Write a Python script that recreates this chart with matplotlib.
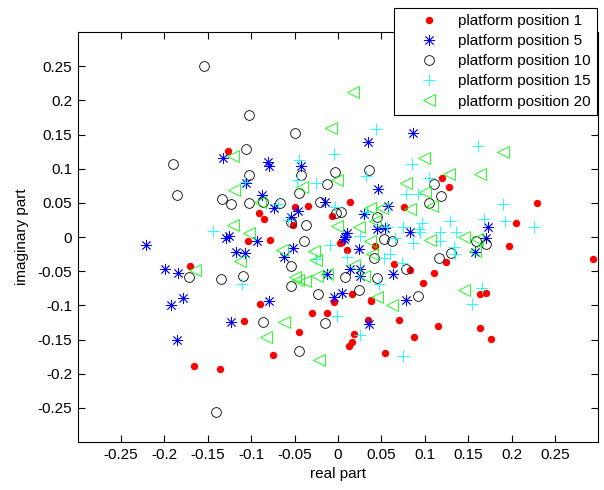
import matplotlib
matplotlib.use("Agg")
import matplotlib.pyplot as plt

plt.rcParams['font.family'] = ['Liberation Sans', 'DejaVu Sans']

# ── data ─────────────────────────────────────────────────────────────────────

pos1_re = [-0.1707, -0.1665, -0.1357, -0.1085, -0.0900, -0.0747, -0.0444, -0.0294,
           -0.0124, -0.0044, 0.0382, 0.0344, 0.0190, 0.0167, 0.0125, 0.0536,
           0.0705, 0.0881, 0.1154, 0.1642, 0.1768, 0.2290, 0.2056, 0.1976,
           0.2944, 0.1640, 0.1700, -0.1270, -0.0912, -0.0855, -0.0498, -0.0348,
           -0.0067, -0.0516, -0.1035, -0.0789, 0.0020, 0.1200, 0.1285, 0.0136,
           0.0758, 0.0048, 0.0106, 0.0424, 0.1246, 0.0643, 0.0827, 0.1104,
           0.0981, 0.0164, 0.0386]
pos1_im = [-0.0420, -0.1890, -0.1930, -0.1230, -0.0985, -0.1733, -0.1384, -0.1107,
           -0.1107, -0.0952, -0.0937, -0.1209, -0.1418, -0.1540, -0.1588, -0.1695,
           -0.1209, -0.1467, -0.1296, -0.1330, -0.1490, 0.0491, 0.0210, -0.0125,
           -0.0320, -0.0840, -0.0825, 0.1260, 0.0351, 0.0258, 0.0433, 0.0453,
           0.0312, 0.0180, -0.0052, -0.0038, -0.0086, 0.0870, 0.0735, 0.0506,
           0.0443, -0.0077, -0.0188, -0.0125, -0.0369, -0.0402, -0.0490, -0.0529,
           -0.0669, -0.0830, -0.0927]

pos5_re = [-0.2218, -0.1995, -0.1840, -0.1930, -0.1790, -0.1860, -0.1235, -0.0790,
           0.0355, 0.0778, 0.0344, 0.0866, -0.1323, -0.0810, -0.0790, -0.0432,
           -0.1058, -0.0881, -0.0740, -0.0463, -0.0152, -0.0539, -0.1258, -0.1296,
           -0.0931, -0.0516, -0.1173, -0.1077, -0.0628, -0.0124, -0.0048, 0.1726,
           0.1707, 0.1580, 0.0463, 0.0578, 0.0297, 0.0451, 0.0547, 0.0106,
           0.0086, 0.0067, 0.0835, 0.0240, 0.0636, 0.0136, 0.0259, 0.0259,
           0.0048]
pos5_im = [-0.0120, -0.0465, -0.0520, -0.0995, -0.0898, -0.1500, -0.1238, -0.0930,
           -0.1280, -0.0927, 0.1395, 0.1522, 0.1153, 0.1100, 0.1040, 0.1040,
           0.0797, 0.0613, 0.0424, 0.0385, 0.0516, 0.0287, 0.0020, -0.0013,
           -0.0063, -0.0159, -0.0213, -0.0232, -0.0286, -0.0538, -0.0879, 0.0147,
           -0.0013, -0.0213, 0.0701, 0.0458, 0.0337, 0.0118, 0.0133, 0.0054,
           0.0006, -0.0028, 0.0069, -0.0173, -0.0548, -0.0465, -0.0465, -0.0577,
           -0.0820]

pos10_re = [-0.1544, -0.1907, -0.1860, -0.1720, -0.0870, -0.0452, -0.0152, -0.1410,
            0.0920, -0.1031, -0.0490, -0.1058, -0.0424, -0.1028, -0.0132, -0.0037,
            -0.0452, -0.1342, -0.1238, -0.1031, -0.0862, -0.0674, -0.0210, -0.0021,
            -0.0547, -0.0371, -0.0394, -0.0547, -0.1354, -0.1092, -0.0539, -0.0233,
            0.1592, 0.1711, 0.0355, 0.1112, 0.1192, 0.1046, 0.0040, 0.0451,
            0.0528, 0.0624, 0.1304, 0.1161, 0.0420, 0.0781, 0.0075, 0.0451,
            0.0240]
pos10_im = [0.2507, 0.1070, 0.0620, -0.0590, -0.1238, -0.1670, -0.1258, -0.2560,
            -0.0869, 0.1789, 0.1526, 0.1289, 0.0914, 0.0905, 0.0774, 0.0953,
            0.0647, 0.0550, 0.0482, 0.0497, 0.0512, 0.0497, 0.0516, 0.0356,
            0.0214, 0.0180, -0.0063, -0.0431, -0.0621, -0.0567, -0.0723, -0.0830,
            -0.0052, -0.0106, 0.0978, 0.0774, 0.0603, 0.0501, 0.0360, 0.0287,
            -0.0028, -0.0063, -0.0232, -0.0305, -0.0310, -0.0465, -0.0587, -0.0602,
            -0.0781]

pos15_re = [-0.1440, -0.0009, 0.0251, 0.0751, 0.1546, 0.1899, 0.1680, 0.1930,
            0.2260, 0.1665, 0.1610, 0.0440, -0.0048, -0.0447, -0.1074, -0.0478,
            -0.0259, -0.0693, -0.0037, -0.0578, -0.0094, -0.0248, -0.1112, 0.0855,
            0.0328, 0.1046, 0.0778, 0.0920, 0.0336, 0.0751, 0.0970, 0.0931,
            0.1296, 0.0567, 0.1180, 0.0943, 0.1362, 0.0662, 0.0259, 0.1180,
            0.0866, 0.1334, 0.1354, 0.0098, 0.0528, 0.0605, 0.0740, 0.0470]
pos15_im = [0.0093, -0.1160, -0.1428, -0.1743, -0.0976, 0.0482, 0.0264, 0.0229,
            0.0142, -0.0748, 0.1337, 0.1585, 0.1211, 0.1128, 0.0812, 0.0832,
            0.0797, 0.0482, 0.0433, 0.0254, -0.0115, -0.0319, -0.0684, 0.1075,
            0.0895, 0.0862, 0.0628, 0.0628, 0.0360, 0.0142, 0.0200, 0.0118,
            0.0229, 0.0152, 0.0069, 0.0069, 0.0069, -0.0013, 0.0020, -0.0052,
            -0.0092, -0.0140, -0.0246, -0.0296, -0.0305, -0.0246, -0.0383, -0.0684]

pos20_re = [-0.1650, -0.0624, -0.0832, -0.0221, 0.0624, 0.1900, 0.1642, 0.1450,
            0.1604, 0.1584, 0.1450, 0.0175, -0.0086, 0.0990, -0.1215, -0.0412,
            -0.1200, -0.0900, -0.1215, -0.1023, -0.0643, -0.0279, -0.0259, -0.1131,
            -0.0498, -0.0463, -0.0382, -0.0240, -0.0124, -0.0009, 0.0789, 0.1277,
            0.1000, 0.1085, 0.0509, 0.0366, 0.0827, 0.0432, -0.0009, 0.0240,
            0.0366, 0.1058, 0.0394, 0.0182, 0.0297, 0.0444]
pos20_im = [-0.0480, -0.1238, -0.1460, -0.1806, -0.0995, 0.1240, 0.0929, 0.0006,
            -0.0030, -0.0198, -0.0780, 0.2124, 0.1595, 0.1150, 0.1182, 0.0735,
            0.0691, 0.0516, 0.0180, 0.0054, -0.0188, -0.0208, -0.0330, -0.0344,
            -0.0587, -0.0625, -0.0650, -0.0577, -0.0538, 0.0837, 0.0789, 0.0920,
            0.0652, 0.0458, 0.0424, 0.0424, 0.0410, 0.0239, 0.0166, 0.0152,
            -0.0052, -0.0042, -0.0246, -0.0417, -0.0577, -0.0879]

ticks = [-0.25, -0.2, -0.15, -0.1, -0.05, 0, 0.05, 0.1, 0.15, 0.2, 0.25]
tick_labels = ['-0.25', '-0.2', '-0.15', '-0.1', '-0.05', '0',
               '0.05', '0.1', '0.15', '0.2', '0.25']

# ── plot ─────────────────────────────────────────────────────────────────────

fig = plt.figure(figsize=(6.04, 4.90), dpi=100)
ax = fig.add_axes([77.7 / 604, 1 - 442 / 490, (598.3 - 77.7) / 604, (442 - 32) / 490])

lw = 0.6
ax.plot(pos1_re, pos1_im, ls='none', marker='o', ms=4.3, color='#ff0000',
        mec='#ff0000', label='platform position 1')
ax.plot(pos5_re, pos5_im, ls='none', marker=(8, 2, 0), ms=8, color='#0000ff',
        mew=lw, label='platform position 5')
ax.plot(pos10_re, pos10_im, ls='none', marker='o', ms=7, mfc='none', mec='black',
        mew=lw, label='platform position 10')
ax.plot(pos15_re, pos15_im, ls='none', marker='+', ms=8, color='#00ffff',
        mew=lw, label='platform position 15')
ax.plot(pos20_re, pos20_im, ls='none', marker='<', ms=8, mfc='none', mec='#00ff00',
        mew=lw, label='platform position 20')

ax.set_xlim(-0.3, 0.3)
ax.set_ylim(-0.3, 0.3)
ax.set_xticks(ticks)
ax.set_xticklabels(tick_labels, fontsize=11)
ax.set_yticks(ticks)
ax.set_yticklabels(tick_labels, fontsize=11)
ax.tick_params(direction='in', length=5, width=0.8, top=True, right=True, pad=4)
for s in ax.spines.values():
    s.set_linewidth(0.8)

ax.set_xlabel('real part', fontsize=11, labelpad=4)
ax.set_ylabel('imaginary part', fontsize=11, labelpad=6)

leg = ax.legend(loc='upper right', bbox_to_anchor=(596.7 / 604, 1 - 8 / 490),
                bbox_transform=fig.transFigure, borderaxespad=0, fontsize=11,
                fancybox=False, framealpha=1, edgecolor='black', borderpad=0.4,
                handlelength=3.8, handletextpad=0.0, labelspacing=0.4)
leg.get_frame().set_linewidth(0.8)

fig.savefig('out.png', dpi=100, facecolor='white')
